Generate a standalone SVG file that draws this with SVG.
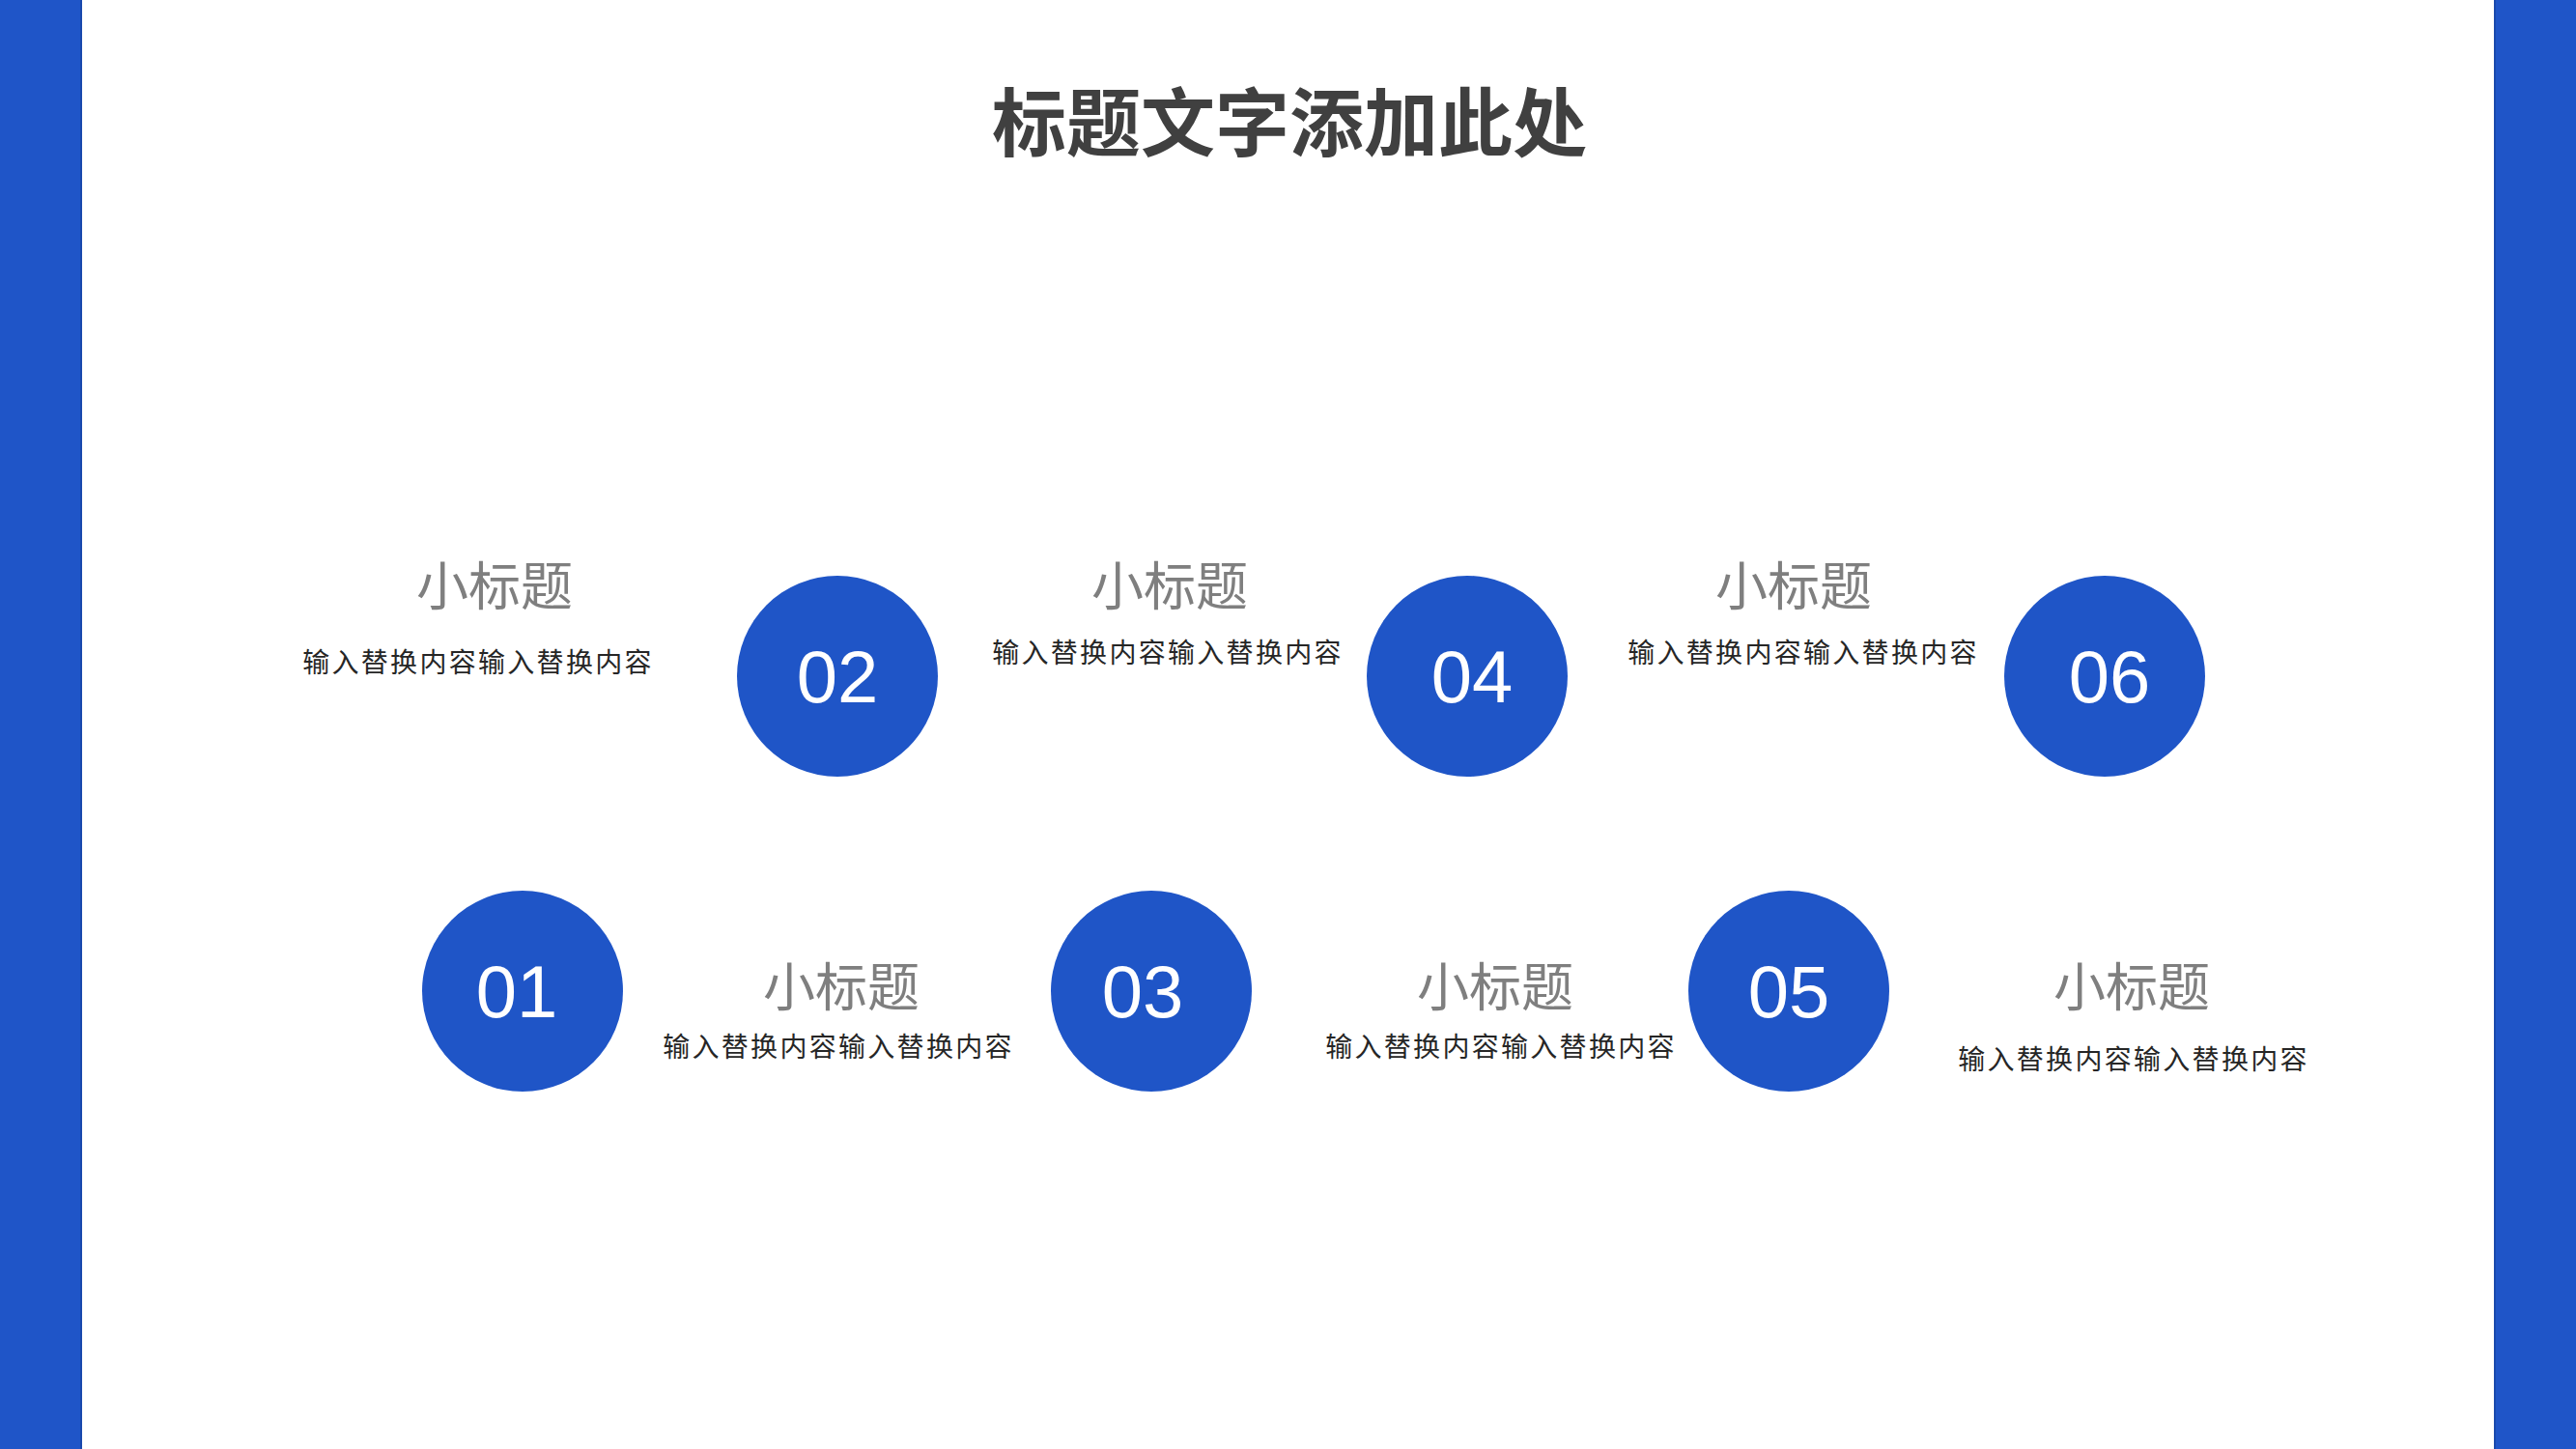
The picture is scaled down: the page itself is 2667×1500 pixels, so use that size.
<svg xmlns="http://www.w3.org/2000/svg" width="2667" height="1500" viewBox="0 0 2667 1500">
<style>
.bar{fill:#1f55c8;stroke:#1a49ad;stroke-width:2}
.c{fill:#1f55c7}
.num{font-family:"Liberation Sans",Arial,sans-serif;font-size:76px;fill:#ffffff;text-anchor:middle}
.t{font-family:"Noto Sans CJK SC","Noto Sans",sans-serif;font-size:54px;fill:#7f7f7f;text-anchor:middle}
.b{font-family:"Noto Sans CJK SC","Noto Sans",sans-serif;font-size:28px;fill:#262626;text-anchor:middle;letter-spacing:2.3px}
.h{font-family:"Noto Sans CJK SC","Noto Sans",sans-serif;font-size:77px;font-weight:bold;fill:#404040;text-anchor:middle}
</style>
<rect width="2667" height="1500" fill="#ffffff"/>
<rect class="bar" x="-2" y="-2" width="86" height="1504"/>
<rect class="bar" x="2583" y="-2" width="86" height="1504"/>
<text class="h" x="1335" y="156">标题文字添加此处</text>
<g id="connectors"></g>
<g id="n01"><circle class="c" cx="541" cy="1026" r="104"/><text class="num" x="535" y="1053">01</text></g>
<g id="n02"><circle class="c" cx="867" cy="700" r="104"/><text class="num" x="867" y="727">02</text></g>
<g id="n03"><circle class="c" cx="1192" cy="1026" r="104"/><text class="num" x="1183" y="1053">03</text></g>
<g id="n04"><circle class="c" cx="1519" cy="700" r="104"/><text class="num" x="1524" y="727">04</text></g>
<g id="n05"><circle class="c" cx="1852" cy="1026" r="104"/><text class="num" x="1852" y="1053">05</text></g>
<g id="n06"><circle class="c" cx="2179" cy="700" r="104"/><text class="num" x="2184" y="727">06</text></g>
<g id="l1"><text class="t" x="512" y="627">小标题</text><text class="b" x="495" y="696">输入替换内容输入替换内容</text></g>
<g id="l2"><text class="t" x="1211" y="627">小标题</text><text class="b" x="1209" y="686">输入替换内容输入替换内容</text></g>
<g id="l3"><text class="t" x="1857" y="627">小标题</text><text class="b" x="1867" y="686">输入替换内容输入替换内容</text></g>
<g id="l4"><text class="t" x="871" y="1042">小标题</text><text class="b" x="868" y="1094">输入替换内容输入替换内容</text></g>
<g id="l5"><text class="t" x="1548" y="1042">小标题</text><text class="b" x="1554" y="1094">输入替换内容输入替换内容</text></g>
<g id="l6"><text class="t" x="2207" y="1042">小标题</text><text class="b" x="2209" y="1107">输入替换内容输入替换内容</text></g>
</svg>
